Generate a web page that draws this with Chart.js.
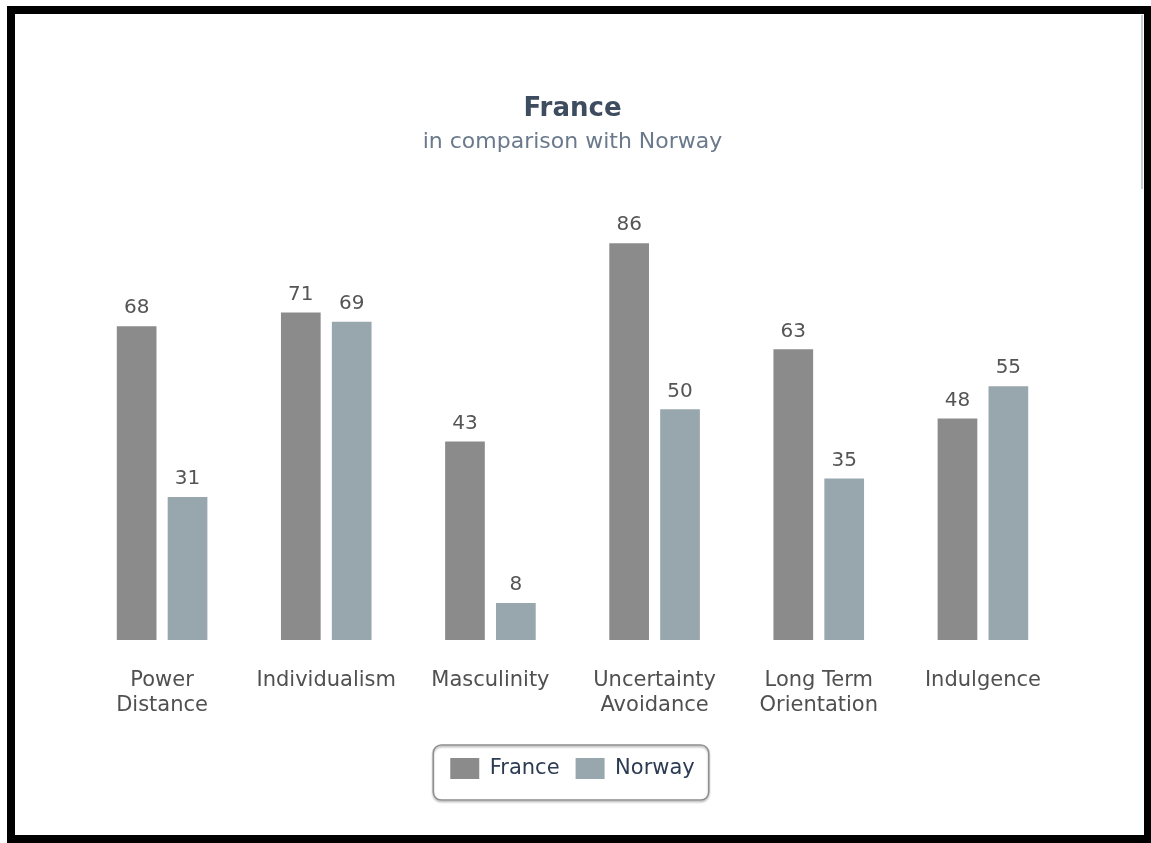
<!DOCTYPE html>
<html>
<head>
<meta charset="utf-8">
<script src="https://cdn.jsdelivr.net/npm/chart.js@4/dist/chart.umd.min.js"></script>
<style>
  html, body { margin: 0; padding: 0; background: #fff; }
  #frame {
    position: absolute; left: 7px; top: 6px;
    width: 1129px; height: 821px;
    border: 8px solid #000; background: #fff;
  }
  #scroll {
    position: absolute; right: 1px; top: 1px; width: 2px; height: 174px;
    background: #c5ced3;
  }
  #chart { position: absolute; left: 0; top: 0; }
</style>
</head>
<body>
<div id="frame">
  <canvas id="chart" width="1129" height="821"></canvas>
  <div id="scroll"></div>
</div>
<script>
// ---- data ----
const dimensions = [
  ['Power', 'Distance'],
  'Individualism',
  'Masculinity',
  ['Uncertainty', 'Avoidance'],
  ['Long Term', 'Orientation'],
  'Indulgence'
];
const franceScores = [68, 71, 43, 86, 63, 48];
const norwayScores = [31, 69, 8, 50, 35, 55];

const fontFam = '"DejaVu Sans", Verdana, sans-serif';

// valeurs au-dessus des barres
const barValues = {
  id: 'barValues',
  afterDatasetsDraw(chart) {
    const ctx = chart.ctx;
    ctx.save();
    ctx.font = '20px ' + fontFam;
    ctx.fillStyle = '#555555';
    ctx.textAlign = 'center';
    ctx.textBaseline = 'middle';
    chart.data.datasets.forEach((ds, i) => {
      chart.getDatasetMeta(i).data.forEach((bar, j) => {
        ctx.fillText(ds.data[j], bar.x, bar.y - 18);
      });
    });
    ctx.restore();
  }
};

// cadre arrondi autour de la légende
const legendBox = {
  id: 'legendBox',
  afterDraw(chart) {
    const lg = chart.legend;
    if (!lg || !lg.legendHitBoxes.length) return;
    const first = lg.legendHitBoxes[0];
    const last = lg.legendHitBoxes[lg.legendHitBoxes.length - 1];
    const x = first.left - 17, y = first.top - 13;
    const w = last.left + last.width - first.left + 31, h = 55;
    const ctx = chart.ctx;
    ctx.save();
    ctx.strokeStyle = '#8f8f8f';
    ctx.lineWidth = 1.5;
    ctx.shadowColor = 'rgba(0,0,0,0.35)';
    ctx.shadowOffsetY = 1.5;
    ctx.shadowBlur = 2;
    ctx.beginPath();
    ctx.roundRect(x, y, w, h, 8);
    ctx.stroke();
    ctx.restore();
  }
};

new Chart(document.getElementById('chart'), {
  type: 'bar',
  data: {
    labels: dimensions,
    datasets: [
      { label: 'France', data: franceScores, backgroundColor: '#8b8b8b' },
      { label: 'Norway', data: norwayScores, backgroundColor: '#97a7ad' }
    ]
  },
  options: {
    responsive: false,
    animation: false,
    devicePixelRatio: 1,
    categoryPercentage: 0.62,
    barPercentage: 0.78,
    layout: { padding: { left: 65, right: 79, top: 80, bottom: 46 } },
    scales: {
      x: {
        grid: { display: false },
        border: { display: false },
        afterFit(scale) { scale.height = 102; },
        ticks: {
          color: '#505050',
          font: { family: fontFam, size: 21 },
          padding: 20,
          maxRotation: 0
        }
      },
      y: {
        display: false,
        min: 0,
        max: 100
      }
    },
    plugins: {
      title: {
        display: true,
        text: 'France',
        color: '#3d4c5e',
        font: { family: fontFam, size: 26, weight: 'bold' },
        padding: { top: 0, bottom: 4 }
      },
      subtitle: {
        display: true,
        text: 'in comparison with Norway',
        color: '#6a7a8c',
        font: { family: fontFam, size: 22 },
        padding: { top: 0, bottom: 23 }
      },
      legend: {
        position: 'bottom',
        labels: {
          color: '#2c3b52',
          font: { family: fontFam, size: 21 },
          boxWidth: 29,
          boxHeight: 21,
          padding: 16
        }
      },
      tooltip: { enabled: false }
    }
  },
  plugins: [barValues, legendBox]
});
</script>
</body>
</html>
